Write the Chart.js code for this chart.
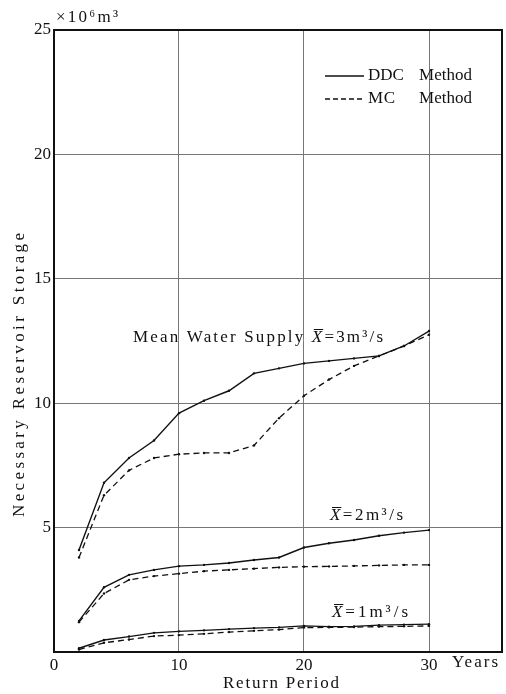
<!DOCTYPE html>
<html>
<head>
<meta charset="utf-8">
<script src="https://cdn.jsdelivr.net/npm/chart.js@4.4.1/dist/chart.umd.min.js"></script>
<style>
html,body{margin:0;padding:0;background:#fff;}
#wrap{width:506px;height:694px;}
</style>
</head>
<body>
<div id="wrap"><canvas id="c" width="506" height="694"></canvas></div>
<script>
// Return period (years)
const years = [2, 4, 6, 8, 10, 12, 14, 16, 18, 20, 22, 24, 26, 28, 30];
// Mean water supply 3 m3/s
const ddc3 = [4.1, 6.8, 7.8, 8.5, 9.6, 10.1, 10.5, 11.2, 11.4, 11.6, 11.7, 11.8, 11.9, 12.3, 12.9];
const mc3  = [3.8, 6.3, 7.3, 7.8, 7.95, 8.0, 8.0, 8.3, 9.4, 10.3, 10.95, 11.5, 11.9, 12.3, 12.75];
// Mean water supply 2 m3/s
const ddc2 = [1.25, 2.6, 3.1, 3.3, 3.45, 3.5, 3.58, 3.7, 3.8, 4.2, 4.37, 4.5, 4.67, 4.8, 4.9];
const mc2  = [1.2, 2.35, 2.9, 3.05, 3.15, 3.25, 3.3, 3.35, 3.4, 3.43, 3.44, 3.46, 3.48, 3.5, 3.5];
// Mean water supply 1 m3/s
const ddc1 = [0.15, 0.48, 0.62, 0.77, 0.83, 0.87, 0.92, 0.96, 0.99, 1.05, 1.02, 1.03, 1.08, 1.1, 1.12];
const mc1  = [0.1, 0.37, 0.5, 0.64, 0.68, 0.73, 0.8, 0.85, 0.9, 0.98, 0.99, 1.0, 1.02, 1.03, 1.05];
// Axis ticks
const xTicks = [0, 10, 20, 30];
const yTicks = [0, 5, 10, 15, 20, 25];

const SERIF = "'Liberation Serif','DejaVu Serif',serif";
const INK = '#111';
const FS = 17;

function pts(arr){ return years.map((x,i)=>({x:x, y:arr[i]})); }
function solid(label, arr){ return {label, data:pts(arr), borderColor:INK, backgroundColor:INK, borderWidth:1.4, pointRadius:1.2, pointBackgroundColor:INK, pointBorderWidth:0, tension:0, fill:false}; }
function dashed(label, arr){ return {label, data:pts(arr), borderColor:INK, backgroundColor:INK, borderWidth:1.3, borderDash:[6,4], pointRadius:1.2, pointBackgroundColor:INK, pointBorderWidth:0, tension:0, fill:false}; }

// Draw text stretched with letter spacing to hit a target width
function fitText(ctx, text, x, y, target, font){
  ctx.font = font;
  ctx.letterSpacing = '0px';
  const w = ctx.measureText(text).width;
  const n = [...text].length;
  const sp = n > 1 ? Math.max(0, (target - w) / (n - 1)) : 0;
  ctx.letterSpacing = sp + 'px';
  ctx.fillText(text, x, y);
  ctx.letterSpacing = '0px';
  return sp;
}

function xbarLabel(ctx, prefix, rest, x0, x1, yc, size){
  ctx.textBaseline = 'middle';
  ctx.textAlign = 'left';
  const nf = size + 'px ' + SERIF;
  const itf = 'italic ' + size + 'px ' + SERIF;
  ctx.letterSpacing = '0px';
  ctx.font = nf; const wp = prefix ? ctx.measureText(prefix).width : 0;
  ctx.font = itf; const wx = ctx.measureText('X').width;
  ctx.font = nf; const wr = ctx.measureText(rest).width;
  const np = [...prefix].length, nr = [...rest].length;
  const nTot = np + 1 + nr;
  const sp = Math.max(0, ((x1 - x0) - (wp + wx + wr)) / (nTot - 1));
  let x = x0;
  ctx.letterSpacing = sp + 'px';
  if (prefix){ ctx.font = nf; ctx.fillText(prefix, x, yc); x += wp + sp*np; }
  ctx.font = itf; ctx.fillText('X', x, yc);
  ctx.letterSpacing = '0px';
  ctx.beginPath(); ctx.lineWidth = 1; ctx.strokeStyle = INK;
  ctx.moveTo(x + 2, yc - size*0.5); ctx.lineTo(x + wx + 1, yc - size*0.5); ctx.stroke();
  x += wx + sp;
  ctx.letterSpacing = sp + 'px';
  ctx.font = nf; ctx.fillText(rest, x, yc);
  ctx.letterSpacing = '0px';
}

const decor = {
  id:'decor',
  beforeDraw(chart){
    const ctx = chart.ctx;
    ctx.save(); ctx.fillStyle = '#fff'; ctx.fillRect(0,0,chart.width,chart.height); ctx.restore();
  },
  afterDraw(chart){
    const ctx = chart.ctx;
    const a = chart.chartArea;
    ctx.save();
    ctx.strokeStyle = INK; ctx.lineWidth = 2;
    ctx.strokeRect(a.left, a.top, a.right - a.left, a.bottom - a.top);
    ctx.fillStyle = INK;
    ctx.textBaseline = 'middle'; ctx.textAlign = 'left';
    fitText(ctx, '×10⁶m³', 56, 18, 62, FS + 'px ' + SERIF);
    fitText(ctx, 'Years', 452, 663, 46, FS + 'px ' + SERIF);
    fitText(ctx, 'Return Period', 223, 684, 116, FS + 'px ' + SERIF);
    ctx.save();
    ctx.translate(20, 375); ctx.rotate(-Math.PI/2);
    fitText(ctx, 'Necessary Reservoir Storage', -142, 0, 284, FS + 'px ' + SERIF);
    ctx.restore();
    // legend
    ctx.strokeStyle = INK; ctx.lineWidth = 1.3;
    ctx.beginPath(); ctx.moveTo(325, 76); ctx.lineTo(364, 76); ctx.stroke();
    ctx.setLineDash([5,3]);
    ctx.beginPath(); ctx.moveTo(325, 99); ctx.lineTo(364, 99); ctx.stroke();
    ctx.setLineDash([]);
    fitText(ctx, 'DDC', 368, 76, 34, FS + 'px ' + SERIF);
    fitText(ctx, 'Method', 419, 76, 53, FS + 'px ' + SERIF);
    fitText(ctx, 'MC', 368, 99, 27, FS + 'px ' + SERIF);
    fitText(ctx, 'Method', 419, 99, 53, FS + 'px ' + SERIF);
    // series annotations
    xbarLabel(ctx, 'Mean Water Supply ', '=3m³/s', 133, 383, 338, FS);
    xbarLabel(ctx, '', '=2m³/s', 330, 403, 516, FS);
    xbarLabel(ctx, '', '=1m³/s', 332, 408, 613, FS);
    ctx.restore();
  }
};

new Chart(document.getElementById('c'), {
  type:'line',
  data:{ datasets:[
    solid('DDC Method (X=3)', ddc3), dashed('MC Method (X=3)', mc3),
    solid('DDC Method (X=2)', ddc2), dashed('MC Method (X=2)', mc2),
    solid('DDC Method (X=1)', ddc1), dashed('MC Method (X=1)', mc1)
  ]},
  options:{
    responsive:false, devicePixelRatio:1, animation:false,
    layout:{ padding:{ top:30, right:4, left:0, bottom:0 } },
    plugins:{ legend:{display:false}, tooltip:{enabled:false} },
    scales:{
      x:{
        type:'linear', min:0, max:35.84,
        afterBuildTicks(s){ s.ticks = xTicks.map(v=>({value:v})); },
        afterFit(s){ s.height = 42; },
        ticks:{ color:INK, font:{family:SERIF, size:FS}, padding:3, maxRotation:0, autoSkip:false },
        grid:{ color:(c)=> (c.tick && c.tick.value===0) ? 'rgba(0,0,0,0)' : '#777', lineWidth:1, drawTicks:false },
        border:{ display:true, color:INK, width:2 }
      },
      y:{
        type:'linear', min:0, max:25,
        afterBuildTicks(s){ s.ticks = yTicks.map(v=>({value:v})); },
        afterFit(s){ s.width = 54; },
        ticks:{ color:INK, font:{family:SERIF, size:FS}, padding:3, callback:(v)=> v===0 ? '' : String(v) },
        grid:{ color:(c)=> (c.tick && (c.tick.value===0 || c.tick.value===25)) ? 'rgba(0,0,0,0)' : '#777', lineWidth:1, drawTicks:false },
        border:{ display:true, color:INK, width:2 }
      }
    }
  },
  plugins:[decor]
});
</script>
</body>
</html>
